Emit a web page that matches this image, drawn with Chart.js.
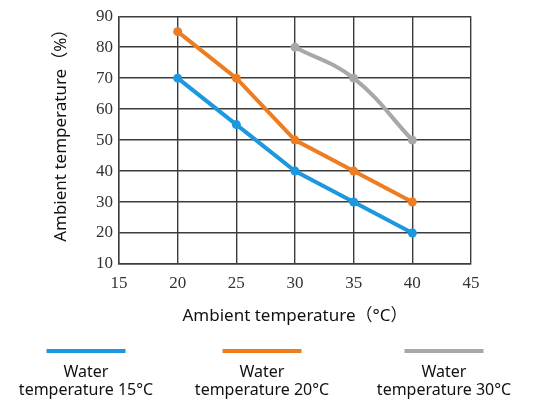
<!DOCTYPE html>
<html>
<head>
<meta charset="utf-8">
<script src="https://cdn.jsdelivr.net/npm/chart.js@4.4.0/dist/chart.umd.min.js"></script>
<style>
  html, body { margin: 0; padding: 0; background: #fff; }
  #wrap { width: 534px; height: 401px; }
  .pre { position: absolute; left: -999px; top: -999px; }
</style>
</head>
<body>
<span class="pre" style="font-family: 'Liberation Serif'">0123456789</span>
<span class="pre" style="font-family: 'Noto Sans'">Water</span>
<div id="wrap"><canvas id="chart" width="534" height="401"></canvas></div>
<script>
// x values (ambient temperature, °C)
const ambientTemps = [20, 25, 30, 35, 40];
// y values (%) per water temperature
const water15 = [70, 55, 40, 30, 20];
const water20 = [85, 70, 50, 40, 30];
const water30 = [null, null, 80, 70, 50];

const seriesLabels = ['Water\ntemperature 15°C', 'Water\ntemperature 20°C', 'Water\ntemperature 30°C'];
const seriesColors = ['#1b98df', '#ee7d22', '#a8a8a8'];

const xTicks = [15, 20, 25, 30, 35, 40, 45];
const yTicks = [10, 20, 30, 40, 50, 60, 70, 80, 90];

// drop the missing readings so the curve only joins real points
const toPoints = (vals) => ambientTemps
    .map((x, i) => ({ x: x, y: vals[i] }))
    .filter(p => p.y !== null);

function makeSet(label, vals, color, curved) {
    return {
        label: label,
        data: toPoints(vals),
        borderColor: color,
        backgroundColor: color,
        borderWidth: 4,
        pointRadius: 4.5,
        pointHoverRadius: 4.5,
        pointBorderWidth: 0,
        tension: curved ? 0.4 : 0
    }
}

// legend under the chart: a short line with a two-line label below
const legendBelow = {
    id: 'legendBelow',
    afterDraw(chart) {
        const ctx = chart.ctx;
        const centers = [86, 262, 444];
        ctx.save();
        chart.data.datasets.forEach((ds, i) => {
            const cx = centers[i];
            ctx.strokeStyle = ds.borderColor;
            ctx.lineWidth = 4;
            ctx.beginPath();
            ctx.moveTo(cx - 39.5, 351);
            ctx.lineTo(cx + 39.5, 351);
            ctx.stroke();
            ctx.fillStyle = '#111';
            ctx.font = '16px "Noto Sans", sans-serif';
            ctx.textAlign = 'center';
            ctx.textBaseline = 'middle';
            ds.label.split('\n').forEach((line, j) => {
                ctx.fillText(line, cx, 372 + j * 18);
            });
        });
        ctx.restore();
    }
};

const gridColor = '#3c3c3c';
const tickFont = { family: "'Liberation Serif', 'DejaVu Serif', serif", size: 17 };
const titleFont = { family: "'Noto Sans', 'Noto Sans CJK SC', sans-serif", size: 17 };

function draw() {
    new Chart(document.getElementById('chart'), {
        type: 'line',
        data: {
            datasets: [
                makeSet(seriesLabels[0], water15, seriesColors[0], false),
                makeSet(seriesLabels[1], water20, seriesColors[1], false),
                makeSet(seriesLabels[2], water30, seriesColors[2], true)
            ]
        },
        options: {
            responsive: false,
            animation: false,
            layout: { padding: { left: 0, right: 63, top: 10, bottom: 0 } },
            plugins: {
                legend: { display: false },
                tooltip: { enabled: false }
            },
            scales: {
                x: {
                    type: 'linear',
                    min: 15,
                    max: 45,
                    afterBuildTicks: (s) => { s.ticks = xTicks.map(v => ({ value: v })); },
                    afterFit: (s) => { s.height = 137; },
                    ticks: { color: '#333', font: tickFont, padding: 9, maxRotation: 0 },
                    grid: { color: gridColor, lineWidth: 1.4, drawTicks: false },
                    border: { color: gridColor, width: 1.4 },
                    title: {
                        display: true,
                        text: 'Ambient temperature（°C）',
                        color: '#111',
                        font: titleFont,
                        padding: { top: 0, bottom: 75 }
                    }
                },
                y: {
                    min: 10,
                    max: 90,
                    afterBuildTicks: (s) => { s.ticks = yTicks.map(v => ({ value: v })); },
                    afterFit: (s) => { s.width = 119; },
                    ticks: { color: '#333', font: tickFont, padding: 6 },
                    grid: { color: gridColor, lineWidth: 1.4, drawTicks: false },
                    border: { color: gridColor, width: 1.4 },
                    title: {
                        display: true,
                        text: '    Ambient temperature（%）',
                        color: '#111',
                        font: titleFont,
                        padding: { top: 51, bottom: 0 }
                    }
                }
            }
        },
        plugins: [legendBelow]
    });
}

Promise.all([
    document.fonts.load("17px 'Liberation Serif'"),
    document.fonts.load("17px 'Noto Sans'")
]).then(draw, draw);
</script>
</body>
</html>
